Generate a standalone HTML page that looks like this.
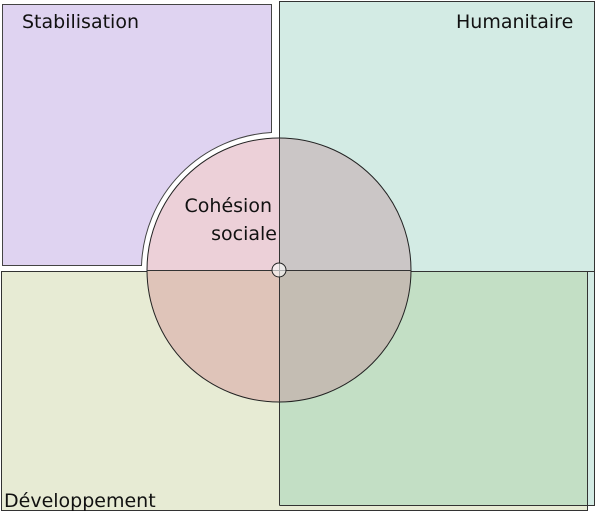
<!DOCTYPE html>
<html><head><meta charset="utf-8"><style>
html,body{margin:0;padding:0;background:#fff;width:596px;height:513px;overflow:hidden}
text{font-family:"DejaVu Sans","Liberation Sans",sans-serif;font-size:19px;fill:#111}
</style></head><body>
<svg width="596" height="513" viewBox="0 0 596 513" xmlns="http://www.w3.org/2000/svg">
<path d="M2.5,4.5 H271.5 V132.5 A138,138 0 0 0 141.5,265.5 H2.5 Z" fill="#dfd3f1" stroke="#444" stroke-width="1"/>
<rect x="279.5" y="1.5" width="315" height="504" fill="#d3ebe4" stroke="#333" stroke-width="1"/>
<rect x="1.5" y="271.5" width="586" height="239" fill="#e7ebd4" stroke="#333" stroke-width="1"/>
<rect x="280" y="272" width="307.5" height="233" fill="#c3dfc5"/>
<line x1="279.5" y1="271.5" x2="279.5" y2="505.5" stroke="#333"/>
<line x1="279.5" y1="505.5" x2="587.5" y2="505.5" stroke="#333"/>
<line x1="587.5" y1="271.5" x2="587.5" y2="505.5" stroke="#333"/>
<line x1="279.5" y1="271.5" x2="594.5" y2="271.5" stroke="#333"/>
<path d="M279,270 L147,270 A132,132 0 0 1 279,138 Z" fill="#ecd0d8"/>
<path d="M279,270 L279,138 A132,132 0 0 1 411,270 Z" fill="#cbc6c6"/>
<path d="M279,270 L147,270 A132,132 0 0 0 279,402 Z" fill="#dfc4b9"/>
<path d="M279,270 L411,270 A132,132 0 0 1 279,402 Z" fill="#c4bdb3"/>
<circle cx="279" cy="270" r="132" fill="none" stroke="#222" stroke-width="1"/>
<line x1="147" y1="270.5" x2="411" y2="270.5" stroke="#333"/>
<line x1="279.5" y1="138" x2="279.5" y2="402" stroke="#333"/>
<circle cx="279" cy="270" r="7" fill="#fff" fill-opacity="0.6" stroke="#222"/>
<text x="22" y="28">Stabilisation</text>
<text x="456" y="28">Humanitaire</text>
<text x="4" y="507">Développement</text>
<text x="272" y="212" text-anchor="end">Cohésion</text>
<text x="277" y="240" text-anchor="end">sociale</text>
</svg>
</body></html>
